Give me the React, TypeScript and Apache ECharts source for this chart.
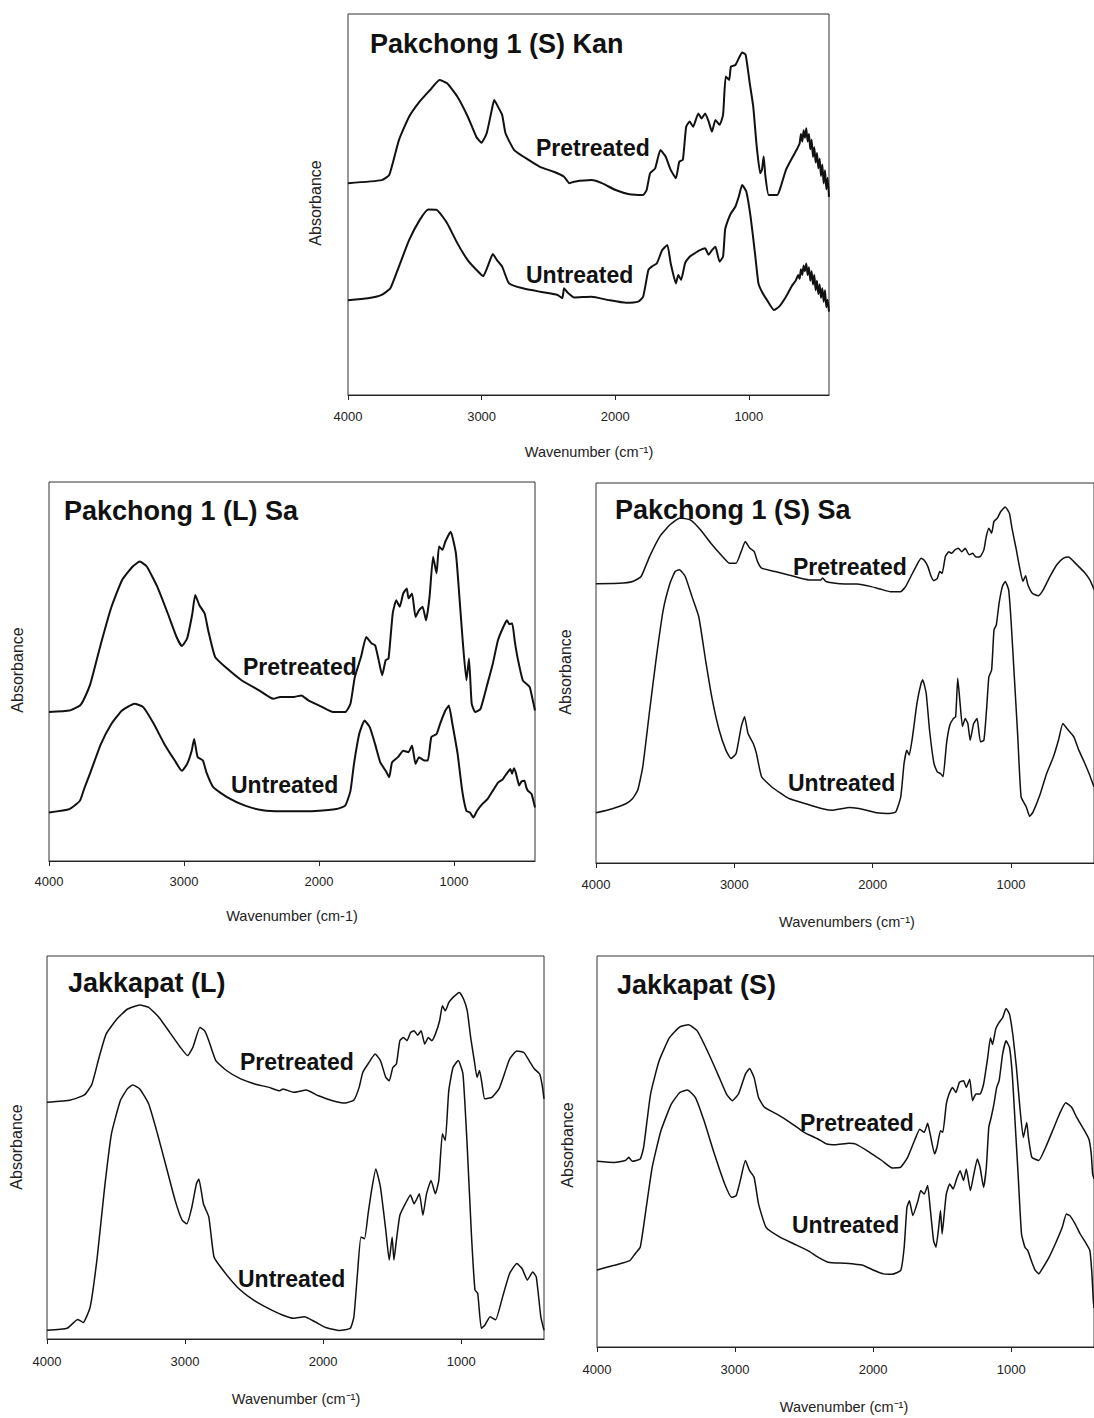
import React, { useEffect, useRef } from "react";
import * as echarts from "echarts";

type Pt = [number, number];

const tickValues = [4000, 3000, 2000, 1000];

// Panel 1: Pakchong 1 (S) Kan
const kanPretreated: Pt[] = [[4000,55.6],[3748,56.4],[3691,57.8],[3619,66.9],[3542,73.1],[3464,77],[3387,80],[3315,82.7],[3258,81.8],[3181,78.3],[3104,73.1],[3040,67.8],[3001,66.2],[2962,68.7],[2924,74.8],[2906,77.4],[2872,75.3],[2846,73.5],[2821,68.7],[2756,64.3],[2666,62.1],[2563,59.9],[2460,58.6],[2383,57.3],[2344,55.6],[2306,56],[2177,56.4],[2100,55.6],[1997,53.8],[1894,52.7],[1791,52.5],[1765,53.8],[1739,58.2],[1701,59.5],[1662,64.3],[1623,62.6],[1585,59.1],[1546,56.9],[1520,61.3],[1494,61.7],[1469,70.4],[1443,71.8],[1417,70.4],[1378,73.9],[1353,72.6],[1327,73.9],[1301,71.8],[1276,69.1],[1250,72.2],[1219,70.9],[1193,73.5],[1173,83.6],[1147,82.7],[1134,86.2],[1101,86.6],[1075,88.4],[1050,89.9],[1024,89.3],[993,81.8],[967,75.7],[941,65.2],[915,58.2],[902,59.1],[889,62.6],[877,57.8],[851,52.5],[787,52.5],[761,54.7],[722,59.1],[670,62.6],[640,64.5],[620,66],[610,68.5],[600,66.5],[590,69.5],[580,67.5],[570,70],[560,66.5],[550,68.5],[540,64.5],[530,67],[520,62.5],[510,65],[500,61],[490,63.5],[480,59.5],[470,62],[460,57.5],[450,60.5],[440,55.5],[430,59],[420,54],[410,57],[400,52]];
const kanUntreated: Pt[] = [[4000,24.9],[3851,25.4],[3748,26.3],[3683,28],[3619,33.7],[3542,40.7],[3464,45.9],[3400,48.7],[3336,48.6],[3258,45.1],[3181,39.8],[3104,35.4],[3027,32.4],[2988,31.2],[2955,33.7],[2916,37],[2885,35.4],[2846,33.7],[2795,29.3],[2692,28],[2563,27.1],[2434,26.3],[2396,25.4],[2383,28],[2357,26.9],[2306,25.6],[2177,25.8],[2048,24.9],[1919,24.2],[1829,24.5],[1791,25.8],[1752,32.8],[1727,33.7],[1688,34.6],[1649,38],[1610,39.4],[1585,34.6],[1546,29.3],[1528,31.5],[1507,30.2],[1477,34.6],[1443,36.3],[1404,37.2],[1366,38],[1327,38.5],[1301,36.8],[1276,38],[1250,38.9],[1219,35],[1193,36.3],[1178,43.3],[1160,45.5],[1134,47.7],[1101,49.4],[1075,52.1],[1050,55.1],[1019,53.4],[987,46.8],[954,37.2],[928,29.3],[902,27.1],[864,24.9],[812,22.3],[773,23.2],[722,25.8],[680,28.5],[650,30],[630,31.5],[620,30.5],[610,33],[600,31.5],[590,34],[580,32.5],[570,34.5],[560,31.5],[550,33.5],[540,30],[530,32.5],[520,29],[510,31.5],[500,27.5],[490,30],[480,26.5],[470,29],[460,25.5],[450,28],[440,24.5],[430,27.5],[420,23],[410,25],[400,21.9]];

// Panel 2: Pakchong 1 (L) Sa
const lsaPretreated: Pt[] = [[4000,39.3],[3849,39.7],[3771,41],[3745,42.4],[3693,46.8],[3615,57.4],[3537,67.1],[3459,74.1],[3380,77.7],[3328,79],[3276,77.7],[3198,72.4],[3120,65.3],[3055,59.1],[3016,56.7],[2977,58.7],[2938,65.3],[2917,70.2],[2886,67.5],[2847,65.3],[2821,60.9],[2769,53.8],[2678,50.7],[2574,47.7],[2443,45],[2339,42.8],[2287,43.3],[2183,43.3],[2131,43.7],[2079,42.4],[1975,40.6],[1897,39.3],[1806,39.3],[1767,41.5],[1735,48.5],[1689,53.8],[1650,59.1],[1610,57.4],[1584,56.9],[1558,53],[1532,49],[1506,53],[1485,53.4],[1454,65.3],[1428,68.8],[1402,67.1],[1376,70.6],[1350,71.9],[1337,69.3],[1311,70.6],[1285,64.4],[1259,66.2],[1233,67.1],[1207,63.5],[1181,69.7],[1155,80.3],[1129,75.9],[1111,83],[1085,82.1],[1064,84.3],[1025,86.9],[986,81.2],[960,69.7],[934,57.4],[908,47.7],[889,53.4],[869,41.5],[843,39.3],[804,40.1],[752,46.8],[713,52],[674,58.3],[634,61.8],[608,63.5],[590,62.5],[569,62.7],[550,58],[530,53.8],[491,47.7],[465,46.8],[439,45.9],[420,43],[400,39.7]];
const lsaUntreated: Pt[] = [[4000,12.8],[3849,13.7],[3771,15.9],[3740,19],[3693,23.4],[3615,30.9],[3537,36.2],[3459,39.7],[3367,41.5],[3302,40.6],[3224,36.2],[3146,30.9],[3068,26.5],[3016,23.8],[2977,25.6],[2943,29.1],[2925,32.2],[2899,27.4],[2860,26.5],[2834,23.4],[2782,19.4],[2678,16.8],[2548,14.6],[2417,13.4],[2287,13.1],[2157,13.1],[2027,13.2],[1871,13.7],[1806,14.6],[1767,18.5],[1741,25.6],[1702,33.5],[1663,37.1],[1624,35.3],[1585,30.9],[1546,26],[1506,23.8],[1480,22.1],[1459,26],[1415,27.4],[1376,29.1],[1337,28.7],[1311,30.5],[1285,25.6],[1259,27.4],[1220,26.5],[1194,26.5],[1168,32.7],[1129,33.5],[1103,36.2],[1064,39.7],[1038,41],[1012,36.2],[973,28.2],[939,18.5],[908,13.2],[882,12.8],[856,11.5],[830,13.2],[791,15],[752,16.3],[713,18.5],[674,20.7],[640,21.5],[621,22.5],[600,23.5],[582,24.3],[570,23],[556,24.5],[543,23.4],[530,21.5],[517,19.9],[500,21],[478,21.2],[465,19.5],[452,18.5],[426,17.7],[400,14.1]];

// Panel 3: Pakchong 1 (S) Sa
const ssaPretreated: Pt[] = [[4000,73.5],[3833,73.6],[3735,74.1],[3674,75.4],[3612,80.7],[3539,85.9],[3465,89],[3392,90.8],[3318,90.3],[3245,87.7],[3171,84.2],[3097,81.1],[3036,78.9],[2987,78.9],[2950,82],[2921,84.6],[2889,82.9],[2857,82],[2832,79.3],[2803,77.6],[2705,76.7],[2607,75.8],[2460,74.5],[2374,74.5],[2362,75],[2337,74.1],[2239,73.5],[2116,73.4],[2018,72.8],[1945,72.1],[1871,71.4],[1798,71.4],[1761,72.8],[1724,75.4],[1687,78],[1650,80.2],[1626,79.6],[1601,78],[1577,75.4],[1557,74.3],[1533,74.9],[1515,76.7],[1498,76.2],[1474,80.7],[1449,81.9],[1429,81.5],[1405,82.4],[1380,82.8],[1356,81.9],[1331,82.8],[1302,81.1],[1277,81.5],[1253,80.5],[1221,80.7],[1196,82.4],[1179,85.9],[1160,88.1],[1140,86.8],[1123,89.9],[1098,90.8],[1074,92.5],[1042,93.7],[1012,92.1],[993,88.1],[964,82.9],[939,78],[914,74.1],[894,75.6],[878,73.2],[846,71],[804,70.3],[767,71.9],[718,75.4],[669,78.5],[620,80.2],[583,80.5],[546,79.3],[510,78],[470,76.5],[430,74.5],[400,72]];
const ssaUntreated: Pt[] = [[4000,13.2],[3882,14.3],[3784,15.6],[3735,17],[3698,19.2],[3662,25.3],[3612,40.2],[3563,54.3],[3514,66.6],[3465,73.6],[3428,76.7],[3397,77.2],[3355,75.4],[3306,70.1],[3257,64.8],[3208,53.4],[3159,42.9],[3110,35],[3061,29.7],[3024,27.5],[2987,28.8],[2950,35.9],[2926,38.5],[2901,34.1],[2864,31.5],[2840,28.8],[2803,22.7],[2729,20],[2607,17],[2484,15.6],[2362,14.3],[2288,13.9],[2165,14.6],[2067,14.1],[1969,13.2],[1896,13],[1834,13.4],[1797,17.4],[1773,26.2],[1753,29.7],[1736,28.4],[1712,33.2],[1680,42],[1650,47.3],[1638,48.2],[1613,44.6],[1589,35],[1557,26.2],[1533,24],[1508,23.5],[1491,22.7],[1466,31.5],[1442,36.3],[1417,38],[1400,38.5],[1385,48.6],[1368,42],[1351,35.9],[1331,38],[1312,36.7],[1295,32.3],[1270,36.7],[1245,38],[1221,31.9],[1196,32.3],[1177,40.2],[1160,49],[1140,50.8],[1123,61.3],[1106,62.7],[1086,68.4],[1062,72.8],[1042,74.1],[1017,71.9],[1000,64],[976,49],[951,33.2],[927,17.4],[890,14.8],[865,12.3],[841,13.4],[792,17.8],[743,23.5],[694,27.9],[657,32.3],[625,36.7],[596,35.4],[546,33.2],[510,29.7],[470,26.5],[430,23],[400,20]];

// Panel 4: Jakkapat (L)
const jlPretreated: Pt[] = [[4000,61.8],[3828,62.4],[3726,63.8],[3674,66.6],[3623,73.5],[3572,79.6],[3495,83.5],[3418,86.1],[3328,87.2],[3264,86.6],[3187,83.9],[3110,80],[3033,76.1],[2982,74],[2944,76.1],[2892,81.3],[2859,80.5],[2828,77.9],[2777,72.7],[2700,70.1],[2597,67.9],[2495,66.6],[2392,65.7],[2315,64.8],[2290,65.3],[2213,64.4],[2123,65],[2033,63.5],[1931,62.2],[1841,61.6],[1777,62.4],[1739,65.7],[1713,69.6],[1675,71.8],[1623,74.4],[1585,72.7],[1546,68.3],[1521,67.4],[1495,70.9],[1469,71.8],[1444,77.9],[1418,78.7],[1392,77.9],[1367,80],[1341,80.5],[1315,79.3],[1290,80.5],[1264,77],[1238,78.7],[1213,77.9],[1187,79.6],[1156,83.1],[1136,87],[1115,85.7],[1090,87.8],[1059,89.2],[1013,90.5],[982,88.7],[956,85.7],[931,78.7],[905,72.7],[885,68.3],[867,70.1],[849,66.6],[829,62.7],[777,63.1],[726,65.3],[687,69.2],[649,73.1],[597,75.2],[546,74.8],[508,72.7],[469,70.5],[431,69.2],[412,66],[400,62.7]];
const jlUntreated: Pt[] = [[4000,2.3],[3854,2.8],[3777,5.1],[3738,4.3],[3687,8.4],[3636,21.4],[3585,38.8],[3533,53.6],[3469,62.2],[3418,65.3],[3379,66.3],[3328,65.3],[3264,61.4],[3200,53.6],[3136,44.9],[3072,36.2],[3021,31],[2987,30.1],[2951,34.4],[2918,40.5],[2900,41.8],[2867,35.3],[2828,31.9],[2790,21.4],[2726,18],[2623,13.6],[2521,10.6],[2418,8.4],[2290,6.2],[2213,5.4],[2136,5.8],[2059,4.5],[1982,3],[1880,2.2],[1803,2.8],[1777,5.8],[1751,17.1],[1726,26.6],[1700,26.2],[1674,32.7],[1649,38.8],[1618,44.4],[1585,39.7],[1546,28.4],[1521,20.6],[1500,26.6],[1487,20.6],[1469,25.8],[1444,32.3],[1405,35.3],[1367,37.6],[1341,35.3],[1303,37.9],[1277,32.3],[1251,37.9],[1218,41.4],[1187,37.9],[1162,41.4],[1136,53.6],[1115,51.8],[1090,64.8],[1059,70.9],[1021,72.7],[987,69.2],[956,50.1],[926,27.5],[900,12.8],[880,11.9],[854,2.8],[829,3.6],[790,5.8],[751,5],[700,11],[649,17.1],[597,19.7],[559,18.4],[520,15.4],[482,17.5],[456,16.2],[423,5.8],[400,2.3]];

// Panel 5: Jakkapat (S)
const jsPretreated: Pt[] = [[4000,47.5],[3875,47.2],[3795,47.7],[3770,48.5],[3745,47.5],[3687,48.1],[3662,51.1],[3612,64.7],[3550,73.2],[3475,79.1],[3400,81.9],[3337,82.4],[3275,80.9],[3200,75.7],[3125,69.8],[3062,64.7],[3020,63],[2975,64.7],[2925,69.8],[2895,71.2],[2862,68.9],[2830,63.8],[2787,61.3],[2700,59.6],[2600,57.4],[2500,54.9],[2400,53.2],[2337,51.9],[2275,51.7],[2175,52.1],[2125,51.9],[2025,49.8],[1937,47.7],[1862,45.8],[1800,46],[1750,48.5],[1700,52.8],[1662,55.7],[1630,54.9],[1605,57.2],[1587,54.5],[1555,49.4],[1537,51.1],[1512,55.3],[1495,54.9],[1470,62.1],[1450,64.7],[1425,66.4],[1400,65.1],[1375,67.7],[1345,68.1],[1325,66.4],[1300,68.5],[1280,63],[1255,64.7],[1225,64.7],[1200,67.2],[1170,74],[1150,79.1],[1135,77.4],[1112,81.3],[1087,83],[1062,84.2],[1037,86.6],[1012,85.1],[987,79.6],[962,71.5],[937,61.3],[912,53.6],[887,57.4],[875,53.6],[850,48.5],[800,47.7],[750,51.1],[700,55.3],[650,59.6],[605,62.5],[562,61.3],[525,58.7],[475,55.7],[437,53.2],[420,49.4],[410,44.3],[400,43]];
const jsUntreated: Pt[] = [[4000,19.7],[3875,20.9],[3762,22.1],[3725,23.8],[3687,25.5],[3650,34],[3600,46],[3537,55.3],[3462,62.1],[3400,65.1],[3345,65.7],[3287,63.8],[3225,57.9],[3150,49.4],[3075,41.7],[3025,38.3],[2992,38.7],[2962,42.6],[2925,47.7],[2895,45.1],[2862,43.4],[2830,36.6],[2775,30.6],[2675,28.1],[2575,26.4],[2475,24.7],[2400,23],[2325,21.7],[2200,21.4],[2075,20.9],[2000,19.7],[1925,18.7],[1862,18.6],[1800,19.6],[1775,25.5],[1755,35.7],[1737,37.4],[1712,33.6],[1675,37.4],[1655,40],[1630,39.1],[1605,41.3],[1587,35.7],[1562,27.2],[1545,25.5],[1525,30.6],[1512,34.9],[1500,28.9],[1487,33.2],[1470,39.1],[1445,41.7],[1420,40.4],[1395,43],[1370,45.1],[1345,42.6],[1325,45.5],[1295,40],[1270,44.3],[1245,48.1],[1225,45.9],[1200,40.8],[1180,45.9],[1162,56.2],[1145,58.7],[1125,62.1],[1105,66.4],[1087,68.1],[1062,74.9],[1037,78.3],[1012,76.6],[992,69.8],[975,59.6],[950,44.3],[925,28.9],[900,25.5],[880,24.7],[850,21.7],[825,19.6],[800,18.7],[775,20],[725,23],[675,26.8],[630,30.6],[600,34],[575,33.6],[537,31.5],[500,28.9],[462,26.8],[430,24.7],[415,18.7],[405,11.9],[400,10]];

const FONT = "'Liberation Sans', Arial, Helvetica, sans-serif";

const panels = [
  {
    grid: { left: 348, top: 14, width: 481, height: 381 },
    margin: 15, lw: 2,
    title: "Pakchong 1 (S) Kan", titleX: 370, titleY: 44,
    pre: kanPretreated, un: kanUntreated,
    preX: 536, preY: 148, unX: 526, unY: 275,
    xTitle: "Wavenumber (cm\u207B\u00B9)", xTitleX: 589, xTitleY: 452,
    yTitleX: 315, yTitleY: 203,
  },
  {
    grid: { left: 49, top: 482, width: 486, height: 379 },
    margin: 14, lw: 2,
    title: "Pakchong 1 (L) Sa", titleX: 64, titleY: 511,
    pre: lsaPretreated, un: lsaUntreated,
    preX: 243, preY: 667, unX: 231, unY: 785,
    xTitle: "Wavenumber (cm-1)", xTitleX: 292, xTitleY: 916,
    yTitleX: 17, yTitleY: 670,
  },
  {
    grid: { left: 596, top: 483, width: 506, height: 380 },
    margin: 15, lw: 1.5,
    title: "Pakchong 1 (S) Sa", titleX: 615, titleY: 510,
    pre: ssaPretreated, un: ssaUntreated,
    preX: 793, preY: 567, unX: 788, unY: 783,
    xTitle: "Wavenumbers (cm\u207B\u00B9)", xTitleX: 847, xTitleY: 922,
    yTitleX: 565, yTitleY: 672,
  },
  {
    grid: { left: 47, top: 956, width: 497, height: 383 },
    margin: 16, lw: 1.5,
    title: "Jakkapat (L)", titleX: 68, titleY: 983,
    pre: jlPretreated, un: jlUntreated,
    preX: 240, preY: 1062, unX: 238, unY: 1279,
    xTitle: "Wavenumber (cm\u207B\u00B9)", xTitleX: 296, xTitleY: 1399,
    yTitleX: 16, yTitleY: 1147,
  },
  {
    grid: { left: 597, top: 956, width: 498, height: 391 },
    margin: 16, lw: 1.5,
    title: "Jakkapat (S)", titleX: 617, titleY: 985,
    pre: jsPretreated, un: jsUntreated,
    preX: 800, preY: 1123, unX: 792, unY: 1225,
    xTitle: "Wavenumber (cm\u207B\u00B9)", xTitleX: 844, xTitleY: 1407,
    yTitleX: 567, yTitleY: 1145,
  },
];

function txt(text: string, x: number, y: number, size: number, weight: string, align: string, color: string, rotation = 0) {
  return {
    type: "text",
    x, y, rotation, silent: true, z: 100,
    style: {
      text, fill: color,
      fontSize: size, fontWeight: weight, fontFamily: FONT,
      textAlign: align, textVerticalAlign: "middle",
      align, verticalAlign: "middle",
    },
  };
}

export default function App() {
  const ref = useRef<HTMLDivElement>(null);
  useEffect(() => {
    const chart = echarts.init(ref.current!, null, { renderer: "svg" });
    const grid: any[] = [];
    const xAxis: any[] = [];
    const yAxis: any[] = [];
    const series: any[] = [];
    const graphic: any[] = [];
    panels.forEach((p, i) => {
      grid.push({ ...p.grid, show: true, borderColor: "#333", borderWidth: 1, backgroundColor: "transparent" });
      xAxis.push({
        gridIndex: i, type: "value", min: 400, max: 4000, inverse: true,
        axisLine: { show: true, onZero: false, lineStyle: { color: "#222", width: 1 } },
        axisTick: { show: true, inside: false, length: 5, customValues: tickValues, lineStyle: { color: "#222" } },
        axisLabel: {
          customValues: tickValues, margin: p.margin, fontSize: 13, color: "#222", fontFamily: FONT,
          formatter: (v: number) => String(v),
        },
        splitLine: { show: false },
      });
      yAxis.push({ gridIndex: i, type: "value", min: 0, max: 100, show: false });
      [p.pre, p.un].forEach((d) => {
        series.push({
          type: "line", xAxisIndex: i, yAxisIndex: i, data: d,
          symbol: "none", smooth: 0.15, clip: true,
          lineStyle: { color: "#111", width: p.lw },
        });
      });
      graphic.push(txt(p.title, p.titleX, p.titleY, 27, "bold", "left", "#111"));
      graphic.push(txt("Pretreated", p.preX, p.preY, 23, "bold", "left", "#111"));
      graphic.push(txt("Untreated", p.unX, p.unY, 23, "bold", "left", "#111"));
      graphic.push(txt(p.xTitle, p.xTitleX, p.xTitleY, 14.5, "normal", "center", "#222"));
      graphic.push(txt("Absorbance", p.yTitleX, p.yTitleY, 16, "normal", "center", "#222", Math.PI / 2));
    });
    chart.setOption({
      animation: false,
      backgroundColor: "#fff",
      grid, xAxis, yAxis, series, graphic,
    });
    return () => chart.dispose();
  }, []);
  return <div ref={ref} style={{ position: "absolute", left: 0, top: 0, width: 1094, height: 1418 }} />;
}
